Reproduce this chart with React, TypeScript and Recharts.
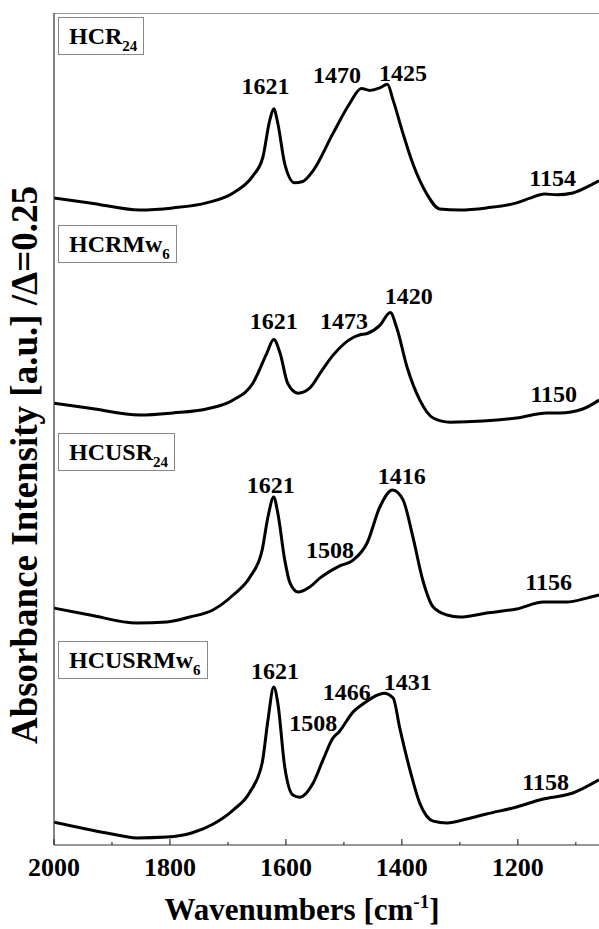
import { LineChart, Line, XAxis, YAxis, ReferenceLine, ReferenceDot } from 'recharts'

// wavenumber axis (reversed, high -> low)
const WN_MIN = 1060
const WN_MAX = 2000
const MAJOR_TICKS = [2000, 1800, 1600, 1400, 1200]
const ALL_TICKS = [2000, 1900, 1800, 1700, 1600, 1500, 1400, 1300, 1200, 1100]

// HCR24
const hcr24Wn = [2000, 1938, 1852, 1795, 1737, 1691, 1657, 1640, 1628, 1621, 1614, 1602, 1585, 1571, 1553, 1519, 1490, 1470, 1455, 1438, 1425, 1415, 1398, 1381, 1357, 1335, 1300, 1254, 1202, 1179, 1154, 1133, 1105, 1076, 1060]
const hcr24Abs = [0.111, 0.087, 0.053, 0.063, 0.087, 0.135, 0.217, 0.304, 0.483, 0.54, 0.47, 0.275, 0.184, 0.19, 0.242, 0.42, 0.565, 0.637, 0.628, 0.64, 0.657, 0.58, 0.42, 0.275, 0.13, 0.058, 0.053, 0.063, 0.087, 0.11, 0.13, 0.126, 0.135, 0.17, 0.193]
const hcr24Peaks = ['1621', '1470', '1425', '1154']
const hcr24PeakWn = [1635, 1512, 1398, 1140]
const hcr24PeakY = [0.647, 0.7, 0.713, 0.208]

// HCRMw6
const hcrmw6Wn = [2000, 1938, 1852, 1795, 1737, 1691, 1657, 1633, 1621, 1610, 1597, 1579, 1559, 1541, 1519, 1484, 1473, 1460, 1438, 1420, 1409, 1391, 1369, 1346, 1317, 1260, 1202, 1150, 1128, 1088, 1060]
const hcrmw6Abs = [0.124, 0.1, 0.067, 0.077, 0.096, 0.139, 0.22, 0.364, 0.43, 0.364, 0.22, 0.172, 0.196, 0.268, 0.354, 0.44, 0.452, 0.459, 0.498, 0.56, 0.488, 0.297, 0.139, 0.053, 0.033, 0.038, 0.053, 0.077, 0.077, 0.096, 0.139]
const hcrmw6Peaks = ['1621', '1473', '1420', '1150']
const hcrmw6PeakWn = [1621, 1500, 1388, 1138]
const hcrmw6PeakY = [0.517, 0.52, 0.64, 0.167]

// HCUSR24
const hcusr24Wn = [2000, 1938, 1857, 1805, 1766, 1726, 1691, 1662, 1641, 1631, 1621, 1614, 1602, 1593, 1579, 1559, 1541, 1508, 1484, 1460, 1438, 1416, 1398, 1381, 1364, 1346, 1322, 1300, 1254, 1202, 1156, 1116, 1081, 1060]
const hcusr24Abs = [0.139, 0.106, 0.067, 0.072, 0.096, 0.13, 0.202, 0.288, 0.418, 0.577, 0.673, 0.596, 0.37, 0.26, 0.216, 0.24, 0.284, 0.341, 0.37, 0.452, 0.625, 0.707, 0.659, 0.481, 0.274, 0.144, 0.106, 0.096, 0.115, 0.135, 0.168, 0.168, 0.187, 0.202]
const hcusr24Peaks = ['1621', '1508', '1416', '1156']
const hcusr24PeakWn = [1626, 1524, 1400, 1147]
const hcusr24PeakY = [0.73, 0.418, 0.774, 0.264]

// HCUSRMw6
const hcusrmw6Wn = [2000, 1909, 1857, 1805, 1760, 1726, 1691, 1662, 1641, 1631, 1621, 1614, 1602, 1588, 1576, 1553, 1536, 1519, 1508, 1484, 1466, 1443, 1431, 1415, 1404, 1386, 1369, 1346, 1322, 1288, 1254, 1202, 1158, 1105, 1060]
const hcusrmw6Abs = [0.11, 0.058, 0.034, 0.038, 0.06, 0.1, 0.168, 0.255, 0.394, 0.6, 0.76, 0.683, 0.375, 0.24, 0.23, 0.298, 0.409, 0.514, 0.545, 0.64, 0.68, 0.72, 0.73, 0.707, 0.567, 0.36, 0.2, 0.115, 0.106, 0.125, 0.149, 0.183, 0.22, 0.25, 0.313]
const hcusrmw6Peaks = ['1621', '1508', '1466', '1431', '1158']
const hcusrmw6PeakWn = [1619, 1553, 1495, 1390, 1152]
const hcusrmw6PeakY = [0.837, 0.587, 0.735, 0.784, 0.303]

const SERIF = "'Liberation Serif', Tinos, 'Nimbus Roman', 'DejaVu Serif', serif"
const FRAME = '#333'
const PANEL_TOP = 13
const PANEL_H = 208
const AXIS_H = 60

type PanelProps = {
  index: number
  name: string
  sub: string
  wn: number[]
  abs: number[]
  peaks: string[]
  peakWn: number[]
  peakY: number[]
  last?: boolean
}

function WnTick(props: any, showLabels: boolean) {
  const { x, y, payload } = props
  const major = payload.value % 200 === 0
  return (
    <g>
      <line x1={x} x2={x} y1={y} y2={y - (major ? 6 : 3)} stroke={FRAME} strokeWidth={1.2} />
      {showLabels && major && (
        <text x={x} y={y + 31} textAnchor="middle" style={{ fontFamily: SERIF, fontWeight: 'bold', fontSize: 26 }} fill="#000">
          {payload.value}
        </text>
      )}
    </g>
  )
}

function Panel({ index, name, sub, wn, abs, peaks, peakWn, peakY, last }: PanelProps) {
  const data = wn.map((w, i) => ({ wn: w, abs: abs[i] }))
  const top = PANEL_TOP + index * PANEL_H
  return (
    <div style={{ position: 'absolute', left: 0, top }}>
      <LineChart width={599} height={PANEL_H + (last ? AXIS_H : 0)} data={data} margin={{ top: 0, right: 0, bottom: 0, left: 0 }}>
        <XAxis
          type="number"
          dataKey="wn"
          domain={[WN_MIN, WN_MAX]}
          reversed
          allowDataOverflow
          ticks={last ? ALL_TICKS : MAJOR_TICKS}
          interval={0}
          tickSize={0}
          tickMargin={0}
          tickLine={false}
          tick={(p: any) => WnTick(p, !!last)}
          height={last ? AXIS_H : 0}
          axisLine={{ stroke: FRAME, strokeWidth: 1.2 }}
        />
        <YAxis
          type="number"
          domain={[0, 1]}
          width={54}
          tick={false}
          tickLine={false}
          axisLine={{ stroke: FRAME, strokeWidth: 1.2 }}
        />
        {index === 0 && <ReferenceLine y={1} stroke={FRAME} strokeWidth={1.2} />}
        <Line dataKey="abs" type="monotone" stroke="#000" strokeWidth={3} dot={false} isAnimationActive={false} />
        {peaks.map((p, i) => (
          <ReferenceDot
            key={p + i}
            x={peakWn[i]}
            y={peakY[i]}
            r={0}
            ifOverflow="visible"
            shape={(s: any) => (
              <text x={s.cx} y={s.cy + 8} textAnchor="middle" style={{ fontFamily: SERIF, fontWeight: 'bold', fontSize: 24 }} fill="#000">
                {p}
              </text>
            )}
          />
        ))}
      </LineChart>
      <div
        style={{
          position: 'absolute',
          left: 58,
          top: 4,
          height: 36,
          padding: '0 6px 0 10px',
          border: '1px solid #888',
          background: '#fff',
          fontFamily: SERIF,
          fontWeight: 'bold',
          fontSize: 24,
          lineHeight: '36px',
          whiteSpace: 'nowrap',
        }}
      >
        {name}
        <span style={{ fontSize: 15, position: 'relative', top: 7 }}>{sub}</span>
      </div>
    </div>
  )
}

export default function App() {
  return (
    <div style={{ position: 'absolute', left: 0, top: 0, width: 599, height: 929, background: '#fff', overflow: 'hidden', fontFamily: SERIF }}>
      <Panel index={0} name="HCR" sub="24" wn={hcr24Wn} abs={hcr24Abs} peaks={hcr24Peaks} peakWn={hcr24PeakWn} peakY={hcr24PeakY} />
      <Panel index={1} name="HCRMw" sub="6" wn={hcrmw6Wn} abs={hcrmw6Abs} peaks={hcrmw6Peaks} peakWn={hcrmw6PeakWn} peakY={hcrmw6PeakY} />
      <Panel index={2} name="HCUSR" sub="24" wn={hcusr24Wn} abs={hcusr24Abs} peaks={hcusr24Peaks} peakWn={hcusr24PeakWn} peakY={hcusr24PeakY} />
      <Panel index={3} name="HCUSRMw" sub="6" wn={hcusrmw6Wn} abs={hcusrmw6Abs} peaks={hcusrmw6Peaks} peakWn={hcusrmw6PeakWn} peakY={hcusrmw6PeakY} last />
      <svg width={599} height={929} style={{ position: 'absolute', left: 0, top: 0, pointerEvents: 'none' }}>
        <text
          x={24}
          y={465}
          transform="rotate(-90 24 465)"
          textAnchor="middle"
          dominantBaseline="central"
          style={{ fontFamily: SERIF, fontWeight: 'bold', fontSize: 37 }}
        >
          Absorbance Intensity [a.u.] /Δ=0.25
        </text>
        <text x={302} y={920} textAnchor="middle" style={{ fontFamily: SERIF, fontWeight: 'bold', fontSize: 31 }}>
          Wavenumbers [cm<tspan dy={-12} style={{ fontSize: 19 }}>-1</tspan>
          <tspan dy={12}>]</tspan>
        </text>
      </svg>
    </div>
  )
}
